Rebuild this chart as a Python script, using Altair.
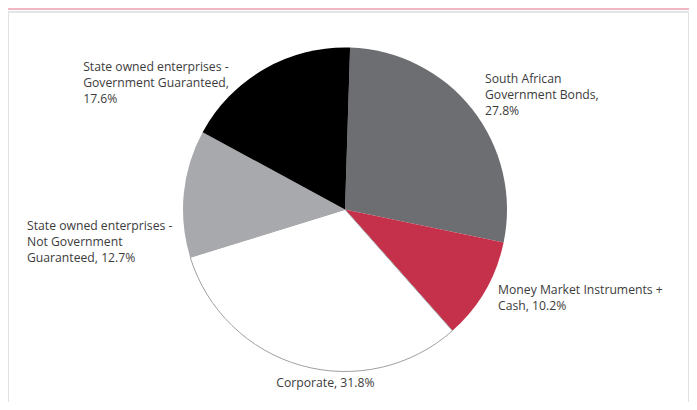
import math
import altair as alt
import pandas as pd

# ---- data ----
categories = [
    "South African Government Bonds",
    "Money Market Instruments + Cash",
    "Corporate",
    "State owned enterprises - Not Government Guaranteed",
    "State owned enterprises - Government Guaranteed",
]
values = [27.8, 10.2, 31.8, 12.7, 17.6]
labels = [
    "South African\nGovernment Bonds,\n27.8%",
    "Money Market Instruments +\nCash, 10.2%",
    "Corporate, 31.8%",
    "State owned enterprises -\nNot Government\nGuaranteed, 12.7%",
    "State owned enterprises -\nGovernment Guaranteed,\n17.6%",
]

# ---- styles ----
colors = ["#6d6e71", "#c5314a", "#ffffff", "#a7a9ac", "#000000"]
label_style = [  # align, dx, dy
    ("left", 12.7, -26.1),
    ("left", 12.9, 2.8),
    ("center", 24.1, 22.0),
    ("left", -156.8, 36.1),
    ("left", -181.2, 1.8),
]

W, H = 681, 394
CX, CY, R = 337, 201.5, 162
start = 0.0314
total = sum(values)

df = pd.DataFrame({"cat": categories, "value": values, "label": labels,
                   "idx": list(range(len(values)))})

theta_scale = alt.Scale(domain=[0, total], range=[start, start + 2 * math.pi])

base = alt.Chart(df)

pie = base.mark_arc(outerRadius=R, strokeWidth=1).encode(
    theta=alt.Theta("value:Q", stack=True, scale=theta_scale),
    color=alt.Color("cat:N", scale=alt.Scale(domain=categories, range=colors), legend=None),
    stroke=alt.condition(alt.datum.cat == "Corporate", alt.value("#a0a0a0"), alt.value("transparent")),
    order=alt.Order("idx:Q"),
    x=alt.value(CX),
    y=alt.value(CY),
)

text_layers = []
for cat, (align, dx, dy) in zip(categories, label_style):
    t = base.transform_window(
        cum="sum(value)", sort=[alt.SortField("idx")], frame=[None, 0]
    ).transform_calculate(
        mid="datum.cum - datum.value / 2"
    ).transform_filter(
        alt.datum.cat == cat
    ).mark_text(
        radius=R, align=align, baseline="alphabetic", dx=dx, dy=dy,
        font="Open Sans", fontSize=12.2, lineHeight=16, lineBreak="\n",
        color="#3c3c3c",
    ).encode(
        theta=alt.Theta("mid:Q", scale=theta_scale),
        text="label:N",
        x=alt.value(CX),
        y=alt.value(CY),
    )
    text_layers.append(t)

pink = base.mark_rule(color="#f0b6c3", strokeWidth=1.5).encode(
    x=alt.value(0), x2=alt.value(W), y=alt.value(0.75))
top = base.mark_rule(color="#e4e4e4", strokeWidth=2).encode(
    x=alt.value(0), x2=alt.value(W), y=alt.value(4))
left = base.mark_rule(color="#e2e2e2", strokeWidth=1).encode(
    x=alt.value(0.5), y=alt.value(4), y2=alt.value(H))
right = base.mark_rule(color="#e2e2e2", strokeWidth=1).encode(
    x=alt.value(W - 0.5), y=alt.value(4), y2=alt.value(H))

chart = alt.layer(pink, top, left, right, pie, *text_layers).properties(
    width=W, height=H, padding=0, autosize="none", background="white"
).configure_view(stroke=None)

chart.save("out.html", embed_options={"renderer": "svg", "actions": False})
